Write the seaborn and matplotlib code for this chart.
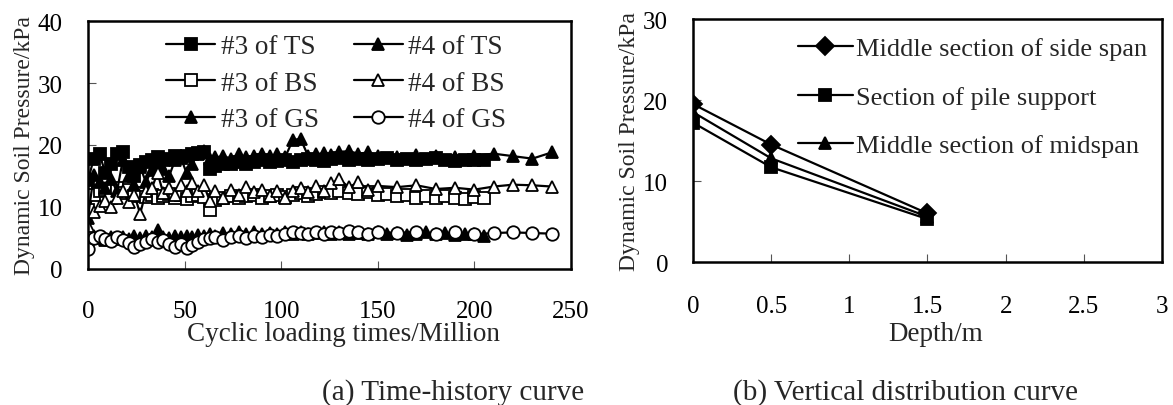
import matplotlib
matplotlib.use('Agg')
import matplotlib.pyplot as plt
import seaborn as sns
from matplotlib.ticker import FormatStrFormatter

# (a) time-history data, cycles in million
cycles_3 = [0, 3, 6, 9, 12, 15, 18, 21, 24, 27, 30, 33, 36, 39, 42, 45, 48, 51, 54, 57, 60, 63, 66,
            70, 74, 78, 82, 86, 90, 94, 98, 102, 106, 110, 114, 118, 122, 126,
            130, 135, 140, 145, 150, 155, 160, 165, 170, 175, 180, 185, 190, 195, 200, 205]
cycles_4 = [0, 3, 6, 9, 12, 15, 18, 21, 24, 27, 30, 33, 36, 39, 42, 45, 48, 51, 54, 57, 60, 63, 66,
            70, 74, 78, 82, 86, 90, 94, 98, 102, 106, 110, 114, 118, 122, 126,
            130, 135, 140, 145, 150, 160, 170, 180, 190, 200, 210, 220, 230, 240]

ts_3 = [14.3, 17.8, 18.5, 15.5, 17.0, 18.6, 18.8, 16.5, 15.0, 16.8, 17.2, 17.6, 18.0, 17.5, 17.8, 18.2,
        17.9, 18.3, 18.6, 18.7, 18.9, 16.2, 16.6, 16.9, 17.0, 17.2, 17.0, 17.3, 17.5, 17.2, 17.4, 17.6,
        17.3, 17.5, 17.8, 17.6, 17.4, 17.7, 17.9, 17.6, 17.8, 17.5, 17.7, 17.9, 17.6, 17.8, 17.5, 17.7,
        17.9, 17.6, 17.4, 17.6, 17.5, 17.6]
ts_4 = [8.3, 15.2, 14.0, 13.0, 14.5, 12.5, 17.5, 15.0, 13.5, 16.5, 14.0, 16.0, 17.0, 16.2, 15.0, 17.5,
        18.0, 15.5, 17.0, 18.6, 19.0, 17.8, 18.0, 18.2, 17.8, 18.5, 18.0, 18.3, 18.6, 18.2, 18.5, 18.0,
        20.8, 21.0, 18.2, 18.5, 18.7, 18.4, 18.9, 19.0, 18.6, 18.8, 18.3, 18.0, 18.4, 18.2, 18.0, 18.3,
        18.6, 18.2, 17.8, 18.8]
bs_3 = [9.5, 12.0, 12.5, 12.8, 11.5, 13.0, 12.2, 12.7, 11.8, 12.3, 11.6, 12.0, 11.4, 11.8, 12.1, 11.5,
        11.9, 11.3, 11.7, 12.0, 11.6, 9.5, 11.2, 11.5, 11.8, 11.4, 11.7, 11.9, 11.5, 11.8, 12.0, 11.6,
        11.9, 12.2, 11.8, 12.1, 12.4, 12.2, 12.5, 12.3, 12.1, 12.4, 11.9, 12.1, 11.7, 11.9, 11.5, 11.8,
        11.4, 11.7, 11.5, 11.3, 11.6, 11.4]
bs_4 = [7.0, 9.2, 10.2, 11.0, 10.0, 11.5, 12.5, 10.8, 12.0, 8.9, 12.5, 13.0, 15.5, 12.2, 13.0, 12.0,
        13.6, 12.5, 13.8, 12.6, 13.5, 11.0, 12.5, 11.5, 12.8, 12.0, 13.2, 12.4, 12.8, 11.8, 12.5, 11.5,
        12.6, 13.0, 12.4, 13.4, 12.6, 13.8, 14.5, 13.2, 14.0, 12.8, 13.4, 13.2, 13.5, 12.9, 13.1, 12.8,
        13.3, 13.6, 13.5, 13.3]
gs_3 = [4.6, 5.3, 5.0, 4.7, 5.1, 4.8, 5.2, 4.9, 5.3, 5.0, 5.4, 5.1, 6.3, 5.2, 5.0, 5.3,
        5.1, 5.4, 5.2, 5.5, 5.3, 5.6, 5.4, 5.8, 5.6, 5.9, 5.7, 5.9, 5.6, 5.8, 5.6, 5.9,
        5.7, 5.9, 5.6, 5.8, 6.0, 5.7, 5.9, 5.6, 5.8, 5.7, 5.9, 5.6, 5.8, 5.5, 5.7, 5.9,
        5.6, 5.8, 5.5, 5.7, 5.6, 5.4]
gs_4 = [3.3, 5.0, 5.3, 4.8, 4.5, 5.2, 4.6, 4.2, 3.6, 4.0, 4.4, 4.9, 4.3, 4.6, 4.0, 3.6,
        4.1, 3.4, 3.9, 4.3, 4.8, 5.0, 5.2, 4.7, 5.1, 5.3, 5.0, 5.4, 5.2, 5.5, 5.3, 5.7,
        6.0, 5.8, 5.6, 5.9, 5.7, 6.0, 5.8, 6.1, 5.9, 5.7, 6.0, 5.8, 6.0, 5.7, 5.9, 5.6,
        5.8, 5.9, 5.8, 5.7]

# (b) vertical distribution
depth = [0, 0.5, 1.5]
side_span = [19.5, 14.5, 6.0]
pile_support = [17.2, 11.7, 5.3]
midspan = [18.5, 12.8, 5.6]

sns.set_style('ticks')
plt.rcParams['font.family'] = ['Liberation Serif', 'DejaVu Serif']

fig = plt.figure(figsize=(11.73, 4.06), dpi=100)
ax1 = fig.add_axes([0.075, 0.335, 0.4118, 0.6108])
ax2 = fig.add_axes([0.5908, 0.3522, 0.3998, 0.5985])

tick_fs = 18
lw = 1.6
ms = 9

line_kws = dict(color='black', linewidth=lw, markersize=ms, markeredgecolor='black',
                markeredgewidth=1.3)

sns.lineplot(x=cycles_3, y=ts_3, ax=ax1, marker='s', markerfacecolor='black', label='#3 of TS', **line_kws)
sns.lineplot(x=cycles_3, y=bs_3, ax=ax1, marker='s', markerfacecolor='white', label='#3 of BS', **line_kws)
sns.lineplot(x=cycles_3, y=gs_3, ax=ax1, marker='^', markerfacecolor='black', label='#3 of GS', **line_kws)
sns.lineplot(x=cycles_4, y=ts_4, ax=ax1, marker='^', markerfacecolor='black', label='#4 of TS', **line_kws)
sns.lineplot(x=cycles_4, y=bs_4, ax=ax1, marker='^', markerfacecolor='white', label='#4 of BS', **line_kws)
sns.lineplot(x=cycles_4, y=gs_4, ax=ax1, marker='o', markerfacecolor='white', label='#4 of GS', **line_kws)

sns.lineplot(x=depth, y=side_span, ax=ax2, marker='D', markerfacecolor='black',
             label='Middle section of side span', **line_kws)
sns.lineplot(x=depth, y=pile_support, ax=ax2, marker='s', markerfacecolor='black',
             label='Section of pile support', **line_kws)
sns.lineplot(x=depth, y=midspan, ax=ax2, marker='^', markerfacecolor='black',
             label='Middle section of midspan', **line_kws)

ax1.set_xlim(0, 250)
ax1.set_ylim(0, 40)
ax1.set_xticks([0, 50, 100, 150, 200, 250])
ax1.set_yticks([0, 10, 20, 30, 40])
ax2.set_xlim(0, 3)
ax2.set_ylim(0, 30)
ax2.set_xticks([0, 0.5, 1, 1.5, 2, 2.5, 3])
ax2.set_yticks([0, 10, 20, 30])
ax2.xaxis.set_major_formatter(FormatStrFormatter('%g'))

for ax in (ax1, ax2):
    for s in ax.spines.values():
        s.set_linewidth(1.8)
        s.set_color('black')
    ax.tick_params(axis='both', direction='in', length=6, width=0.8, color='#555555',
                   labelsize=tick_fs, labelcolor='black')
    ax.tick_params(axis='y', pad=18)
ax1.tick_params(axis='x', pad=22)
ax2.tick_params(axis='x', pad=24)

ax1.set_xlabel('Cyclic loading times/Million', fontsize=19.5, labelpad=0)
ax1.xaxis.set_label_coords(0.528, -0.262)
ax1.xaxis.label.set_va('center')
ax1.set_ylabel('Dynamic Soil Pressure/kPa', fontsize=17, labelpad=2)
ax2.set_xlabel('Depth/m', fontsize=19.5, labelpad=0)
ax2.xaxis.set_label_coords(0.518, -0.294)
ax2.xaxis.label.set_va('center')
ax2.set_ylabel('Dynamic Soil Pressure/kPa', fontsize=17, labelpad=2)

h, l = ax1.get_legend_handles_labels()
ax1.legend(h, l, ncol=2, loc='upper left', bbox_to_anchor=(0.14, 0.99), frameon=False,
           fontsize=19.5, handlelength=1.8, handletextpad=0.2, columnspacing=1.3,
           labelspacing=0.42, borderaxespad=0)
ax2.legend(loc='upper right', bbox_to_anchor=(0.99, 0.97), frameon=False, fontsize=19,
           handlelength=2.1, handletextpad=0.1, labelspacing=0.95, borderaxespad=0)

fig.text(0.386, 0.034, '(a) Time-history curve', fontsize=21, ha='center', va='center')
fig.text(0.772, 0.034, '(b) Vertical distribution curve', fontsize=21, ha='center', va='center')

fig.savefig('out.png', dpi=100)
